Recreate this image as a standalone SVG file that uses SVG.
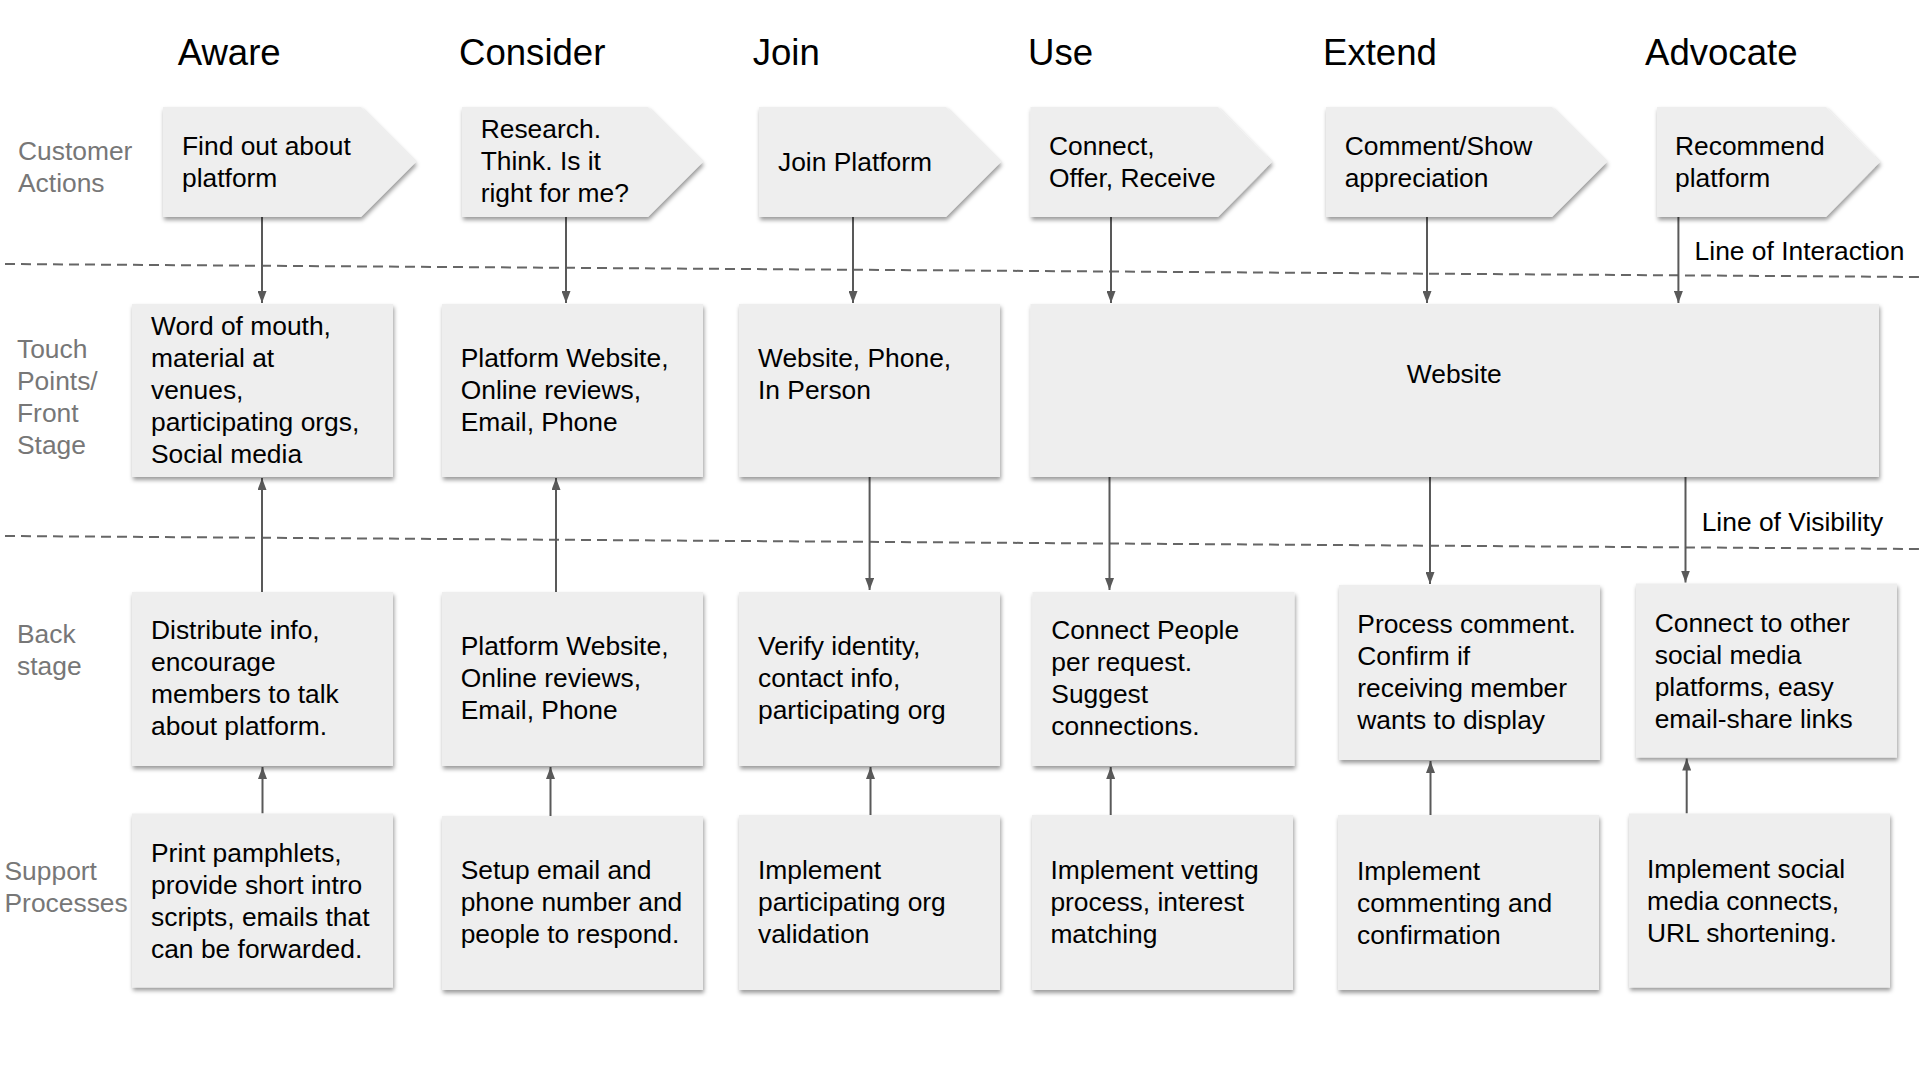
<svg xmlns="http://www.w3.org/2000/svg" width="1920" height="1080" viewBox="0 0 1920 1080">
<style>
text{font-family:"Liberation Sans",Arial,sans-serif;}
.hdr{font-size:36.6px;fill:#000;}
.lbl{font-size:26.4px;fill:#777;}
.t{font-size:26.4px;fill:#000;}
.box{fill:#eeeeee;filter:url(#sh);}
.dash{stroke:#666;stroke-width:2;stroke-dasharray:10 6;fill:none;}
.conn line{stroke:#595959;stroke-width:2;}
</style>
<defs>
<filter id="sh" x="-5%" y="-5%" width="115%" height="120%">
<feDropShadow dx="1" dy="3" stdDeviation="2" flood-color="#000" flood-opacity="0.4"/>
</filter>
<marker id="ah" markerWidth="12" markerHeight="9" refX="12" refY="4.5" orient="auto" markerUnits="userSpaceOnUse" viewBox="0 0 12 9">
<path d="M0,0 L12,4.5 L0,9 z" fill="#595959"/>
</marker>
</defs>
<rect width="1920" height="1080" fill="#fff"/>

<g id="headers">
<text class="hdr" x="177.7" y="65">Aware</text>
<text class="hdr" x="459" y="65">Consider</text>
<text class="hdr" x="752.7" y="65">Join</text>
<text class="hdr" x="1028" y="65">Use</text>
<text class="hdr" x="1323" y="65">Extend</text>
<text class="hdr" x="1645" y="65">Advocate</text>
</g>

<g id="row-labels">
<text class="lbl" x="18" y="160">Customer</text>
<text class="lbl" x="18" y="192">Actions</text>
<text class="lbl" x="17" y="358">Touch</text>
<text class="lbl" x="17" y="390">Points/</text>
<text class="lbl" x="17" y="422">Front</text>
<text class="lbl" x="17" y="454">Stage</text>
<text class="lbl" x="17" y="643">Back</text>
<text class="lbl" x="17" y="675">stage</text>
<text class="lbl" x="4.5" y="880">Support</text>
<text class="lbl" x="4.5" y="912">Processes</text>
</g>

<g id="lines">
<line class="dash" x1="5" y1="264" x2="1920" y2="277"/>
<line class="dash" x1="5" y1="536" x2="1920" y2="549"/>
<text class="t" x="1694.6" y="260">Line of Interaction</text>
<text class="t" x="1701.7" y="530.7">Line of Visibility</text>
</g>

<g id="connectors" class="conn">
<line x1="262" y1="217" x2="262" y2="303" marker-end="url(#ah)"/>
<line x1="566" y1="217" x2="566" y2="303" marker-end="url(#ah)"/>
<line x1="853" y1="217" x2="853" y2="303" marker-end="url(#ah)"/>
<line x1="1111" y1="217" x2="1111" y2="303" marker-end="url(#ah)"/>
<line x1="1427" y1="217" x2="1427" y2="303" marker-end="url(#ah)"/>
<line x1="1678.4" y1="217" x2="1678.4" y2="303" marker-end="url(#ah)"/>
<line x1="262" y1="592" x2="262" y2="478" marker-end="url(#ah)"/>
<line x1="556" y1="592" x2="556" y2="478" marker-end="url(#ah)"/>
<line x1="869.6" y1="477" x2="869.6" y2="590" marker-end="url(#ah)"/>
<line x1="1109.5" y1="477" x2="1109.5" y2="590" marker-end="url(#ah)"/>
<line x1="1430" y1="477" x2="1430" y2="584" marker-end="url(#ah)"/>
<line x1="1685.5" y1="477" x2="1685.5" y2="582.5" marker-end="url(#ah)"/>
<line x1="262.5" y1="813.5" x2="262.5" y2="767" marker-end="url(#ah)"/>
<line x1="550.5" y1="816" x2="550.5" y2="767" marker-end="url(#ah)"/>
<line x1="870.5" y1="815" x2="870.5" y2="767" marker-end="url(#ah)"/>
<line x1="1110.7" y1="815" x2="1110.7" y2="767" marker-end="url(#ah)"/>
<line x1="1430.5" y1="815" x2="1430.5" y2="761" marker-end="url(#ah)"/>
<line x1="1686.7" y1="813.5" x2="1686.7" y2="758.5" marker-end="url(#ah)"/>
</g>

<g id="ca-aware"><path class="box" d="M163,107 H361 L416,162 L361,217 H163 Z"/>
<text class="t" x="182" y="155">Find out about</text><text class="t" x="182" y="187">platform</text></g>
<g id="ca-consider"><path class="box" d="M462,107 H648 L703,162 L648,217 H462 Z"/>
<text class="t" x="480.7" y="138.3">Research.</text><text class="t" x="480.7" y="170.3">Think. Is it</text><text class="t" x="480.7" y="202.3">right for me?</text></g>
<g id="ca-join"><path class="box" d="M759,107 H946 L1001,162 L946,217 H759 Z"/>
<text class="t" x="778" y="170.7">Join Platform</text></g>
<g id="ca-use"><path class="box" d="M1030.5,107 H1218 L1272,162 L1218,217 H1030.5 Z"/>
<text class="t" x="1049" y="155">Connect,</text><text class="t" x="1049" y="187">Offer, Receive</text></g>
<g id="ca-extend"><path class="box" d="M1326,107 H1552 L1607,162 L1552,217 H1326 Z"/>
<text class="t" x="1344.7" y="155">Comment/Show</text><text class="t" x="1344.7" y="187">appreciation</text></g>
<g id="ca-advocate"><path class="box" d="M1657,107 H1826 L1880,162 L1826,217 H1657 Z"/>
<text class="t" x="1675" y="155">Recommend</text><text class="t" x="1675" y="187">platform</text></g>

<g id="tp-aware"><rect class="box" x="132" y="304" width="261" height="173"/>
<text class="t" x="151" y="335">Word of mouth,</text><text class="t" x="151" y="367">material at</text><text class="t" x="151" y="399">venues,</text><text class="t" x="151" y="431">participating orgs,</text><text class="t" x="151" y="463">Social media</text></g>
<g id="tp-consider"><rect class="box" x="442" y="304" width="261" height="173"/>
<text class="t" x="460.7" y="367.3">Platform Website,</text><text class="t" x="460.7" y="399.3">Online reviews,</text><text class="t" x="460.7" y="431.3">Email, Phone</text></g>
<g id="tp-join"><rect class="box" x="739" y="304" width="261" height="173"/>
<text class="t" x="758" y="367.3">Website, Phone,</text><text class="t" x="758" y="399.3">In Person</text></g>
<g id="tp-website"><rect class="box" x="1030.5" y="304" width="848.5" height="173"/>
<text class="t" x="1406.8" y="383.3">Website</text></g>

<g id="bs-aware"><rect class="box" x="132" y="592" width="261" height="174"/>
<text class="t" x="151" y="639.3">Distribute info,</text><text class="t" x="151" y="671.3">encourage</text><text class="t" x="151" y="703.3">members to talk</text><text class="t" x="151" y="735.3">about platform.</text></g>
<g id="bs-consider"><rect class="box" x="442" y="592" width="261" height="174"/>
<text class="t" x="460.7" y="655">Platform Website,</text><text class="t" x="460.7" y="687">Online reviews,</text><text class="t" x="460.7" y="719">Email, Phone</text></g>
<g id="bs-join"><rect class="box" x="739" y="592" width="261" height="174"/>
<text class="t" x="758" y="655">Verify identity,</text><text class="t" x="758" y="687">contact info,</text><text class="t" x="758" y="719">participating org</text></g>
<g id="bs-use"><rect class="box" x="1032.5" y="592" width="262" height="174"/>
<text class="t" x="1051.3" y="639.3">Connect People</text><text class="t" x="1051.3" y="671.3">per request.</text><text class="t" x="1051.3" y="703.3">Suggest</text><text class="t" x="1051.3" y="735.3">connections.</text></g>
<g id="bs-extend"><rect class="box" x="1339" y="585" width="261" height="175"/>
<text class="t" x="1357.3" y="633.3">Process comment.</text><text class="t" x="1357.3" y="665.3">Confirm if</text><text class="t" x="1357.3" y="697.3">receiving member</text><text class="t" x="1357.3" y="729.3">wants to display</text></g>
<g id="bs-advocate"><rect class="box" x="1636" y="583.5" width="261" height="174"/>
<text class="t" x="1654.7" y="631.7">Connect to other</text><text class="t" x="1654.7" y="663.7">social media</text><text class="t" x="1654.7" y="695.7">platforms, easy</text><text class="t" x="1654.7" y="727.7">email-share links</text></g>

<g id="sp-aware"><rect class="box" x="132" y="813.5" width="261" height="174"/>
<text class="t" x="151" y="861.7">Print pamphlets,</text><text class="t" x="151" y="893.7">provide short intro</text><text class="t" x="151" y="925.7">scripts, emails that</text><text class="t" x="151" y="957.7">can be forwarded.</text></g>
<g id="sp-consider"><rect class="box" x="442" y="816" width="261" height="174"/>
<text class="t" x="460.7" y="879">Setup email and</text><text class="t" x="460.7" y="911">phone number and</text><text class="t" x="460.7" y="943">people to respond.</text></g>
<g id="sp-join"><rect class="box" x="739" y="815" width="261" height="175"/>
<text class="t" x="758" y="879.3">Implement</text><text class="t" x="758" y="911.3">participating org</text><text class="t" x="758" y="943.3">validation</text></g>
<g id="sp-use"><rect class="box" x="1032" y="815" width="261" height="175"/>
<text class="t" x="1050.4" y="879.3">Implement vetting</text><text class="t" x="1050.4" y="911.3">process, interest</text><text class="t" x="1050.4" y="943.3">matching</text></g>
<g id="sp-extend"><rect class="box" x="1338" y="815" width="261" height="175"/>
<text class="t" x="1357" y="880">Implement</text><text class="t" x="1357" y="912">commenting and</text><text class="t" x="1357" y="944">confirmation</text></g>
<g id="sp-advocate"><rect class="box" x="1629" y="813.5" width="261" height="174"/>
<text class="t" x="1647" y="878.3">Implement social</text><text class="t" x="1647" y="910.3">media connects,</text><text class="t" x="1647" y="942.3">URL shortening.</text></g>
</svg>
